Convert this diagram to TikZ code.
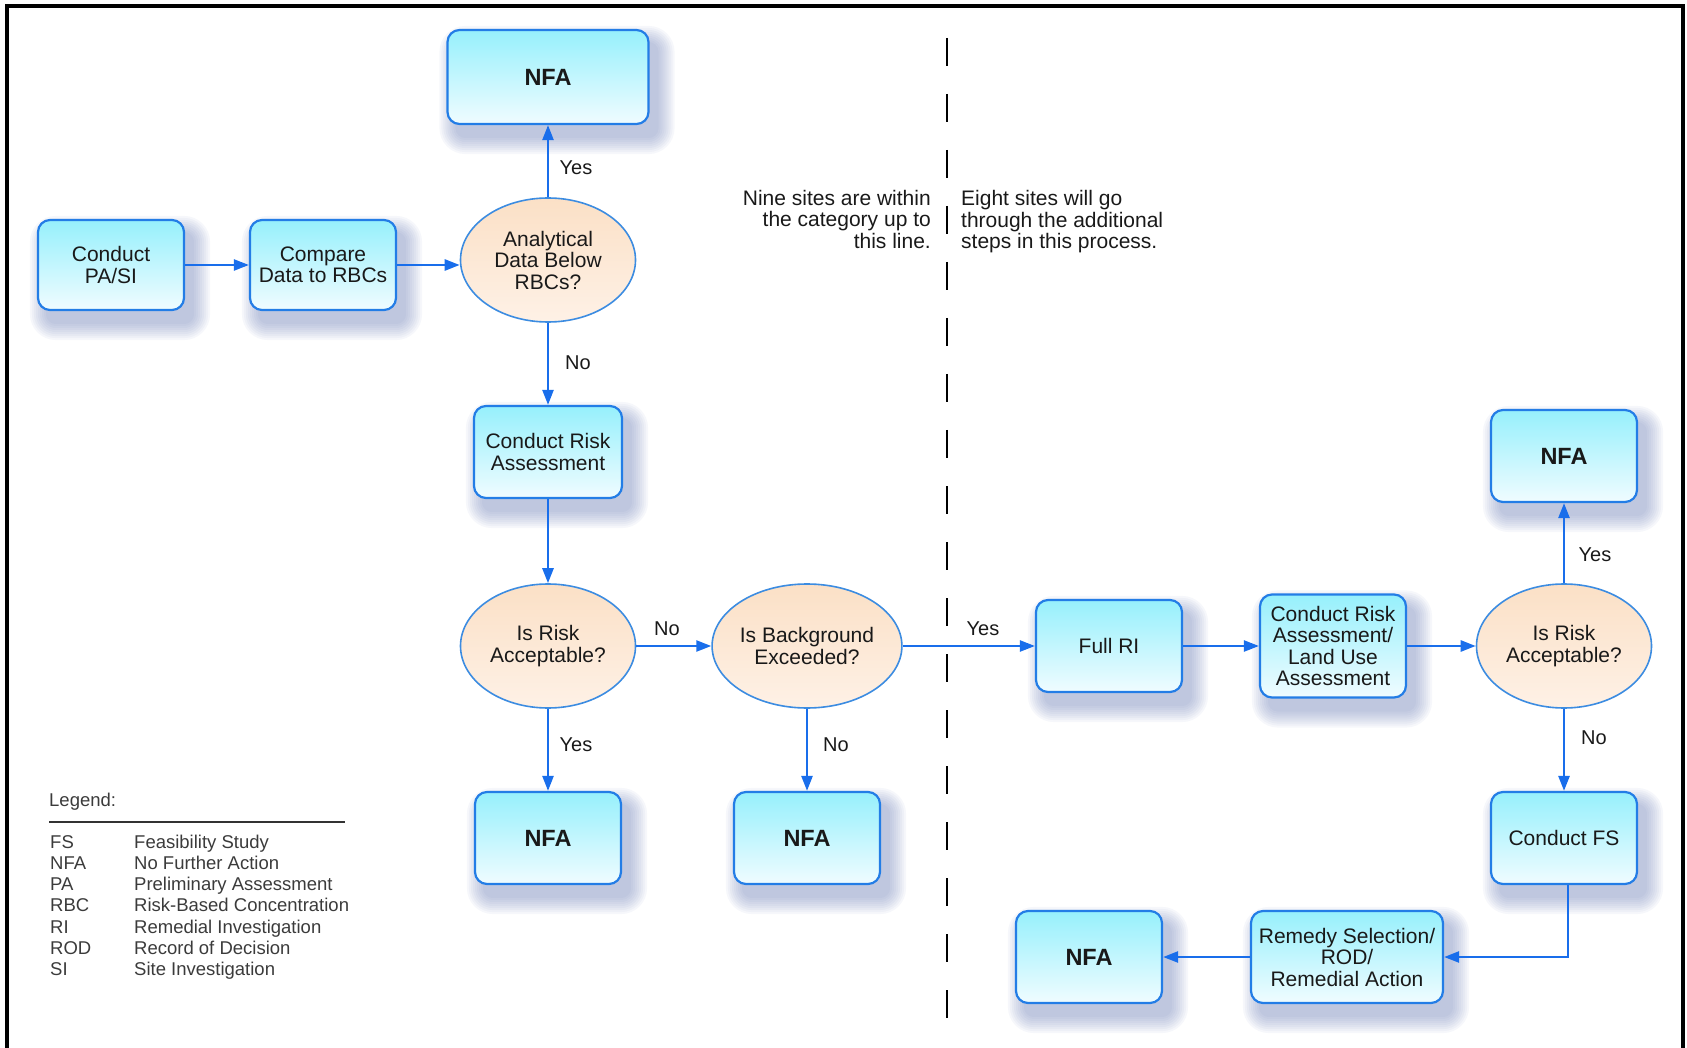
\documentclass[tikz,border=0pt]{standalone}
\usepackage{fontspec}
\setmainfont{Liberation Sans}
\usetikzlibrary{arrows.meta,shapes.geometric,backgrounds}
\definecolor{boxborder}{RGB}{35,125,230}
\definecolor{boxtop}{RGB}{150,240,252}
\definecolor{boxbot}{RGB}{240,252,255}
\definecolor{elltop}{RGB}{251,224,198}
\definecolor{ellbot}{RGB}{254,241,230}
\definecolor{ellborder}{RGB}{60,140,225}
\definecolor{arrowblue}{RGB}{25,110,235}
\definecolor{shadowcol}{RGB}{95,115,175}
\definecolor{txt}{RGB}{25,25,25}
\tikzset{
  procbox/.style={rectangle, rounded corners=12pt, draw=boxborder, line width=2.2pt,
    top color=boxtop, bottom color=boxbot, minimum width=146pt, minimum height=90pt,
    inner sep=2pt, align=center, text=txt, font=\fontsize{21}{21.5}\selectfont},
  nfabox/.style={procbox, font=\fontsize{23.5}{24}\selectfont\bfseries},
  decision/.style={ellipse, draw=ellborder, line width=1.6pt, top color=elltop,
    bottom color=ellbot, minimum width=175pt, minimum height=124pt, inner sep=0pt,
    align=center, text=txt, font=\fontsize{21}{21.5}\selectfont},
  arr/.style={draw=arrowblue, line width=2.5pt, -{Triangle[length=15pt,width=11pt]}},
  lbl/.style={text=txt, font=\fontsize{20}{21}\selectfont, inner sep=0pt},
  note/.style={text=txt, font=\fontsize{21}{21.5}\selectfont, inner sep=0pt},
  legtext/.style={text=txt!85, font=\fontsize{18.5}{21.3}\selectfont, inner sep=0pt, anchor=base west},
  divider/.style={draw=black, line width=2.4pt, dash pattern=on 28pt off 28pt},
  frameline/.style={draw=black, line width=4pt},
  legrule/.style={draw=black!80, line width=1.5pt},
  shadowlayer/.style={fill=shadowcol, opacity=0.055},
}
\newcommand\boxshadow[1]{%
  \foreach \k [evaluate=\k as \e using 2*\k, evaluate=\k as \r using 10+2*\k] in {0,...,8}{%
    \fill[shadowlayer, rounded corners=\r pt]
      ([shift={(9-\e,13-\e)}]#1.north west) rectangle ([shift={(9+\e,13+\e)}]#1.south east);
  }%
}
\begin{document}
\begin{tikzpicture}[x=1pt,y=-1pt]
\useasboundingbox (0,0) rectangle (1687,1048);
% frame
\draw[frameline] (7,1048) -- (7,6) -- (1683,6) -- (1683,1048);
% divider
\coordinate (dtop) at (947,38);
\coordinate (dbot) at (947,1020);
\draw[divider] (dtop) -- (dbot);

% nodes
\node[nfabox, minimum width=201pt, minimum height=94pt] (nfa1) at (548,77) {NFA};
\node[procbox] (pasi) at (111,265) {Conduct\\PA/SI};
\node[procbox] (cmp) at (323,265) {Compare\\Data to RBCs};
\node[decision] (anl) at (548,260) {Analytical\\Data Below\\RBCs?};
\node[procbox, minimum width=148pt, minimum height=92pt] (cra) at (548,452) {Conduct Risk\\Assessment};
\node[decision] (risk1) at (548,646) {Is Risk\\Acceptable?};
\node[decision] (bg) at (807,646) {Is Background\\Exceeded?};
\node[nfabox, minimum height=92pt] (nfa2) at (548,838) {NFA};
\node[nfabox, minimum height=92pt] (nfa3) at (807,838) {NFA};
\node[procbox, minimum height=92pt] (fri) at (1109,646) {Full RI};
\node[procbox, minimum height=103pt] (crl) at (1333,646) {Conduct Risk\\Assessment/\\Land Use\\Assessment};
\node[decision] (risk2) at (1564,646) {Is Risk\\Acceptable?};
\node[nfabox, minimum height=92pt] (nfa4) at (1564,456) {NFA};
\node[procbox, minimum height=92pt] (fs) at (1564,838) {Conduct FS};
\node[procbox, minimum width=192pt, minimum height=92pt] (rem) at (1347,957) {Remedy Selection/\\ROD/\\Remedial Action};
\node[nfabox, minimum height=92pt] (nfa5) at (1089,957) {NFA};

% shadows behind the boxes
\begin{scope}[on background layer]
\foreach \n in {nfa1,pasi,cmp,cra,nfa2,nfa3,fri,crl,nfa4,fs,rem,nfa5}{\boxshadow{\n}}
\end{scope}

% connectors
\draw[arr] (pasi.east) -- (cmp.west);
\draw[arr] (cmp.east) -- (cmp.east -| anl.west);
\draw[arr] (anl) -- (nfa1);
\draw[arr] (anl) -- (cra);
\draw[arr] (cra) -- (risk1);
\draw[arr] (risk1) -- (bg);
\draw[arr] (risk1) -- (nfa2);
\draw[arr] (bg) -- (nfa3);
\draw[arr] (bg.east) -- (bg.east -| fri.west);
\draw[arr] (fri) -- (crl);
\draw[arr] (crl) -- (risk2);
\draw[arr] (risk2) -- (nfa4);
\draw[arr] (risk2) -- (fs);
\draw[arr] ([xshift=4pt]fs.south) |- (rem.east);
\draw[arr] (rem) -- (nfa5);

% labels
\node[lbl] (l1) at (576,168) {Yes};
\node[lbl] (l2) at (578,363) {No};
\node[lbl] (l3) at (667,629) {No};
\node[lbl] (l4) at (576,745) {Yes};
\node[lbl] (l5) at (836,745) {No};
\node[lbl] (l6) at (983,629) {Yes};
\node[lbl] (l7) at (1595,555) {Yes};
\node[lbl] (l8) at (1594,738) {No};

% notes
\node[note, align=right, anchor=east] (nine) at (931,219) {Nine sites are within\\the category up to\\this line.};
\node[note, align=left, anchor=west] (eight) at (961,222) {Eight sites will go\\through the additional\\steps in this process.};

% legend
\node[legtext] (leg) at (49,806) {Legend:};
\coordinate (ra) at (49,822);
\coordinate (rb) at (345,822);
\draw[legrule] (ra) -- (rb);
\foreach \ab/\me [count=\i] in {FS/Feasibility Study, NFA/No Further Action, PA/Preliminary Assessment, RBC/Risk-Based Concentration, RI/Remedial Investigation, ROD/Record of Decision, SI/Site Investigation}{
  \node[legtext] (la\i) at (50,{848+21.3*(\i-1)}) {\ab};
  \node[legtext] (lb\i) at (134,{848+21.3*(\i-1)}) {\me};
}
\end{tikzpicture}
\end{document}
